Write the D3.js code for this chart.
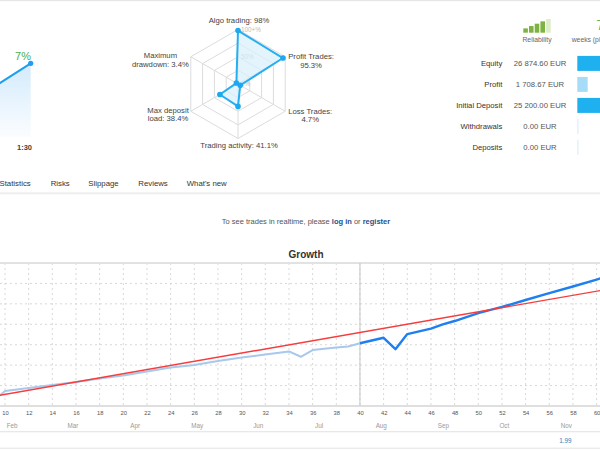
<!DOCTYPE html>
<html>
<head>
<meta charset="utf-8">
<script src="https://d3js.org/d3.v7.min.js"></script>
<style>
body { margin: 0; background: #fff; }
svg { display: block; font-family: "Liberation Sans", Arial, sans-serif; }
</style>
</head>
<body>
<svg width="600" height="450"></svg>
<script>
/// data

// small growth preview (top left)
var miniValues = [2.7, 7];

// radar
var radarNames = ["Algo trading", "Profit Trades", "Loss Trades", "Trading activity", "Max deposit load", "Maximum drawdown"];
var radarValues = [98, 95.3, 4.7, 41.1, 38.4, 3.4];
var radarLines = [["Algo trading: 98%"], ["Profit Trades:", "95.3%"], ["Loss Trades:", "4.7%"],
  ["Trading activity: 41.1%"], ["Max deposit", "load: 38.4%"], ["Maximum", "drawdown: 3.4%"]];
var radarRings = [0.25, 0.5, 0.75, 1];
var radarTickLabels = ["100+%", "50%", "0%"];
var radarTickValues = [1, 0.5, 0];

// account table
var tableLabels = ["Equity", "Profit", "Initial Deposit", "Withdrawals", "Deposits"];
var tableValues = [26874.60, 1708.67, 25200.00, 0, 0];
var reliabilityLevel = 4;
var reliabilitySteps = [1, 2, 3, 4, 5];

var tabs = ["Statistics", "Risks", "Slippage", "Reviews", "What's new"];

// growth chart
var growthWeeks  = [9.5, 10, 12, 14, 16, 18, 20, 22, 24, 26, 28, 30, 32, 34, 35, 36, 38, 39, 40,
                    42, 43, 44, 46, 47, 48, 50, 52, 54, 56, 58, 60, 60.6];
var growthValues = [0.49, 0.73, 0.88, 1.03, 1.17, 1.35, 1.49, 1.69, 1.88, 2.01, 2.20, 2.37, 2.52, 2.67, 2.41, 2.74, 2.86, 2.91, 3.07,
                    3.34, 2.78, 3.52, 3.79, 4.00, 4.16, 4.55, 4.85, 5.19, 5.53, 5.85, 6.19, 6.30];
var splitWeek = 40;
var trendWeeks = [9.5, 60.6];
var trendValues = [0.52, 5.68];
var weekTicks = [10, 12, 14, 16, 18, 20, 22, 24, 26, 28, 30, 32, 34, 36, 38, 40, 42, 44, 46, 48, 50, 52, 54, 56, 58, 60];
var monthNames = ["Feb", "Mar", "Apr", "May", "Jun", "Jul", "Aug", "Sep", "Oct", "Nov"];
var monthWeeks = [10.6, 15.75, 21, 26.25, 31.4, 36.55, 41.8, 47.05, 52.2, 57.45];
var gridValues = [1, 2, 3, 4, 5, 6];
var bottomValue = "1.99";


var svg = d3.select("svg");

// page separators
svg.append("rect").attr("x", 0).attr("y", 0).attr("width", 600).attr("height", 1.2).style("fill", "#e6e6e6");
svg.append("rect").attr("x", 0).attr("y", 192.3).attr("width", 600).attr("height", 2).style("fill", "#eeeeee");
svg.append("rect").attr("x", 0).attr("y", 431).attr("width", 600).attr("height", 1.3).style("fill", "#e8e8e8");
svg.append("rect").attr("x", 0).attr("y", 447.6).attr("width", 600).attr("height", 1.3).style("fill", "#e8e8e8");


/// mini growth chart
var defs = svg.append("defs");
var grad = defs.append("linearGradient").attr("id", "miniFill")
    .attr("x1", 0).attr("y1", 0).attr("x2", 0).attr("y2", 1);
grad.append("stop").attr("offset", "0%").style("stop-color", "#d3eafc");
grad.append("stop").attr("offset", "100%").style("stop-color", "#fbfdff");

var mx = d3.scaleLinear().domain([0, miniValues.length - 1]).range([-40, 30.7]);
var my = d3.scaleLinear().domain([0, 7]).range([137, 63.3]);

svg.append("path")
    .datum(miniValues)
    .attr("d", d3.area().x(function(d, i) { return mx(i); }).y0(137).y1(function(d) { return my(d); }))
    .style("fill", "url(#miniFill)");
svg.append("path")
    .datum(miniValues)
    .attr("d", d3.line().x(function(d, i) { return mx(i); }).y(function(d) { return my(d); }))
    .style("fill", "none").style("stroke", "#1d9eee").style("stroke-width", 2);
svg.append("circle")
    .attr("cx", mx(miniValues.length - 1)).attr("cy", my(miniValues[miniValues.length - 1])).attr("r", 2.6)
    .style("fill", "#1d9eee");
svg.append("text").attr("x", 23).attr("y", 59.5).attr("text-anchor", "middle")
    .style("font-size", "11px").style("fill", "#4cae4c")
    .text(Math.round(miniValues[miniValues.length - 1]) + "%");
svg.append("text").attr("x", 24.5).attr("y", 149.5).attr("text-anchor", "middle")
    .style("font-size", "7.5px").style("font-weight", "bold").style("fill", "#444")
    .text("1:30");


/// radar
var cx = 238, cy = 84, R = 54.5;
var n = radarNames.length;
var r = d3.scaleLinear().domain([0, 100]).range([0, R]);
function ang(i) { return i * 2 * Math.PI / n; }
function pt(i, rad) { return [cx + rad * Math.sin(ang(i)), cy - rad * Math.cos(ang(i))]; }

var radar = svg.append("g");
radar.selectAll(".ring")
    .data(radarRings)
  .enter().append("polygon")
    .attr("points", function(k) {
      return d3.range(n).map(function(i) { return pt(i, R * k).join(","); }).join(" ");
    })
    .style("fill", "none").style("stroke", "#dcdcdc").style("stroke-width", 1);
radar.selectAll(".spoke")
    .data(radarNames)
  .enter().append("line")
    .attr("x1", cx).attr("y1", cy)
    .attr("x2", function(d, i) { return pt(i, R)[0]; })
    .attr("y2", function(d, i) { return pt(i, R)[1]; })
    .style("stroke", "#dcdcdc").style("stroke-width", 1);

radar.selectAll(".tick")
    .data(radarTickLabels)
  .enter().append("text")
    .attr("x", cx + 3)
    .attr("y", function(d, i) { return cy - R * radarTickValues[i] + 2.3; })
    .style("font-size", "6.3px").style("fill", "#bcbcbc")
    .text(function(d) { return d; });

radar.append("polygon")
    .attr("points", radarValues.map(function(v, i) { return pt(i, r(v)).join(","); }).join(" "))
    .style("fill", "#d8effc").style("fill-opacity", 0.7)
    .style("stroke", "#27aef0").style("stroke-width", 2).style("stroke-linejoin", "round");
radar.selectAll(".dot")
    .data(radarValues)
  .enter().append("circle")
    .attr("cx", function(v, i) { return pt(i, r(v))[0]; })
    .attr("cy", function(v, i) { return pt(i, r(v))[1]; })
    .attr("r", 2.8)
    .style("fill", "#1ea9ee");

// labels: top/bottom centred on the vertex, sides pushed out beside it
radarLines.forEach(function(lines, i) {
  var v = pt(i, R);
  var t = radar.append("text").attr("text-anchor", "middle")
      .style("font-size", "7.7px").style("fill", "#444");
  lines.forEach(function(s, j) {
    t.append("tspan").attr("x", 0).attr("y", j * 8.6).text(s);
  });
  var w = d3.max(t.selectAll("tspan").nodes(), function(node) { return node.getComputedTextLength(); });
  var sx = Math.sin(ang(i));
  var x, y;
  if (Math.abs(sx) < 0.01) {
    x = v[0] + 1;
    y = Math.cos(ang(i)) > 0 ? v[1] - 7 : v[1] + 9;
  } else if (sx > 0) {
    x = v[0] + 3 + w / 2;
    y = v[1] + 4 + 2.8 - (lines.length - 1) * 4.3;
  } else {
    x = v[0] - 2 - w / 2;
    y = v[1] + 3 + 2.8 - (lines.length - 1) * 4.3;
  }
  t.attr("transform", "translate(" + x + "," + y + ")");
});


/// reliability + table
var relX = d3.scaleBand().domain(reliabilitySteps).range([523.3, 550.7]).paddingInner(0.2);
var relH = d3.scaleLinear().domain([1, 5]).range([4.3, 13.7]);
svg.selectAll(".rel")
    .data(reliabilitySteps)
  .enter().append("rect")
    .attr("x", function(d) { return relX(d); })
    .attr("y", function(d) { return 32.7 - relH(d); })
    .attr("width", relX.bandwidth())
    .attr("height", function(d) { return relH(d); })
    .style("fill", function(d) { return d <= reliabilityLevel ? "#7cb342" : "#dcedc8"; });
svg.append("text").attr("x", 537).attr("y", 42.3).attr("text-anchor", "middle")
    .style("font-size", "6.8px").style("fill", "#666").text("Reliability");
svg.append("text").attr("x", 596.3).attr("y", 30).style("font-size", "15px").style("fill", "#5cb85c").text("7");
svg.append("text").attr("x", 571.7).attr("y", 42.3).style("font-size", "6.8px").style("fill", "#666").text("weeks (platform)");

var eur = d3.formatLocale({ decimal: ".", thousands: " ", grouping: [3], currency: ["", " EUR"] }).format("$,.2f");
var rowY = d3.scalePoint().domain(tableLabels).range([63.4, 147.4]);
var barX = d3.scaleLinear().domain([0, d3.max(tableValues)]).range([0, 163]);

var rows = svg.selectAll(".row")
    .data(tableLabels)
  .enter().append("g")
    .attr("transform", function(d) { return "translate(0," + rowY(d) + ")"; });
rows.append("text")
    .attr("x", 502.3).attr("y", 2.8).attr("text-anchor", "end")
    .style("font-size", "7.7px").style("fill", "#333")
    .text(function(d) { return d; });
rows.append("text")
    .attr("x", 540).attr("y", 2.8).attr("text-anchor", "middle")
    .style("font-size", "7.7px").style("fill", "#555")
    .text(function(d, i) { return eur(tableValues[i]); });
rows.append("rect")
    .attr("x", 577.3).attr("y", -7.5).attr("height", 15)
    .attr("width", function(d, i) { return Math.max(1.2, barX(tableValues[i])); })
    .style("fill", function(d, i) {
      if (tableValues[i] === 0) return "#d9eefb";
      return d === "Profit" ? "#a6dcf7" : "#1fb0ef";
    });


/// tabs + login line
svg.selectAll(".tab")
    .data(tabs)
  .enter().append("text")
    .attr("x", function(d, i) { return [-0.5, 50.7, 88.3, 138.3, 186.7][i]; })
    .attr("y", 185.5)
    .style("font-size", "7.8px").style("fill", "#333")
    .text(function(d) { return d; });

var login = svg.append("text").attr("x", 306).attr("y", 224).attr("text-anchor", "middle")
    .style("font-size", "7.5px").style("fill", "#555");
login.append("tspan").text("To see trades in realtime, please ");
login.append("tspan").style("fill", "#1f4f8f").style("font-weight", "bold").text("log in");
login.append("tspan").text(" or ");
login.append("tspan").style("fill", "#1f4f8f").style("font-weight", "bold").text("register");


/// growth chart
svg.append("text").attr("x", 306).attr("y", 258).attr("text-anchor", "middle")
    .style("font-size", "10px").style("font-weight", "bold").style("fill", "#333")
    .text("Growth");

var x = d3.scaleLinear().domain([10, 60]).range([5, 596.6]);
var y = d3.scaleLinear().domain([0, 7]).range([406, 263]);

defs.append("clipPath").attr("id", "plot")
  .append("rect").attr("x", 0).attr("y", 262).attr("width", 600).attr("height", 145);

var g = svg.append("g");

g.selectAll(".hgrid")
    .data(gridValues)
  .enter().append("line")
    .attr("x1", 0).attr("x2", 600)
    .attr("y1", function(d) { return y(d); }).attr("y2", function(d) { return y(d); })
    .style("stroke", "#d8d8d8").style("stroke-dasharray", "2,3");
g.selectAll(".vgrid")
    .data(weekTicks)
  .enter().append("line")
    .attr("x1", function(d) { return x(d); }).attr("x2", function(d) { return x(d); })
    .attr("y1", y(7)).attr("y2", y(0))
    .style("stroke", "#d8d8d8").style("stroke-dasharray", "2,3");

g.append("line").attr("x1", 0).attr("x2", 600).attr("y1", y(7)).attr("y2", y(7))
    .style("stroke", "#e2e2e2").style("stroke-width", 1.8);
g.append("line").attr("x1", x(splitWeek)).attr("x2", x(splitWeek)).attr("y1", y(7)).attr("y2", y(0))
    .style("stroke", "#c4c4c4").style("stroke-width", 1);

var xAxis = g.append("g")
    .attr("transform", "translate(0," + y(0) + ")")
    .call(d3.axisBottom(x).tickValues(weekTicks).tickSize(0).tickPadding(5));
xAxis.select(".domain").remove();
xAxis.selectAll("text").style("font-size", "5.8px").style("fill", "#555").style("font-family", "'Liberation Sans', Arial, sans-serif");
g.append("line").attr("x1", 0).attr("x2", 600).attr("y1", y(0)).attr("y2", y(0))
    .style("stroke", "#d4d4d4").style("stroke-width", 1.6);

g.selectAll(".month")
    .data(monthNames)
  .enter().append("text")
    .attr("x", function(d, i) { return x(monthWeeks[i]); })
    .attr("y", 428.2)
    .attr("text-anchor", "middle")
    .style("font-size", "6.3px").style("fill", "#999")
    .text(function(d) { return d; });

var pts = growthWeeks.map(function(w, i) { return { w: w, v: growthValues[i] }; });
var line = d3.line().x(function(d) { return x(d.w); }).y(function(d) { return y(d.v); });
var lines = g.append("g").attr("clip-path", "url(#plot)");

lines.append("path")
    .datum(pts.filter(function(d) { return d.w <= splitWeek; }))
    .attr("d", line)
    .style("fill", "none").style("stroke", "#a8c8ec").style("stroke-width", 2).style("stroke-linejoin", "round");
lines.append("path")
    .datum(pts.filter(function(d) { return d.w >= splitWeek; }))
    .attr("d", line)
    .style("fill", "none").style("stroke", "#1f7fef").style("stroke-width", 2.4).style("stroke-linejoin", "round");
lines.append("path")
    .datum(trendWeeks.map(function(w, i) { return { w: w, v: trendValues[i] }; }))
    .attr("d", line)
    .style("fill", "none").style("stroke", "#f63c3c").style("stroke-width", 1.4);

svg.append("text").attr("x", 565.5).attr("y", 442.8).attr("text-anchor", "middle")
    .style("font-size", "6.3px").style("fill", "#2f7cc0")
    .text(bottomValue);
</script>
</body>
</html>
